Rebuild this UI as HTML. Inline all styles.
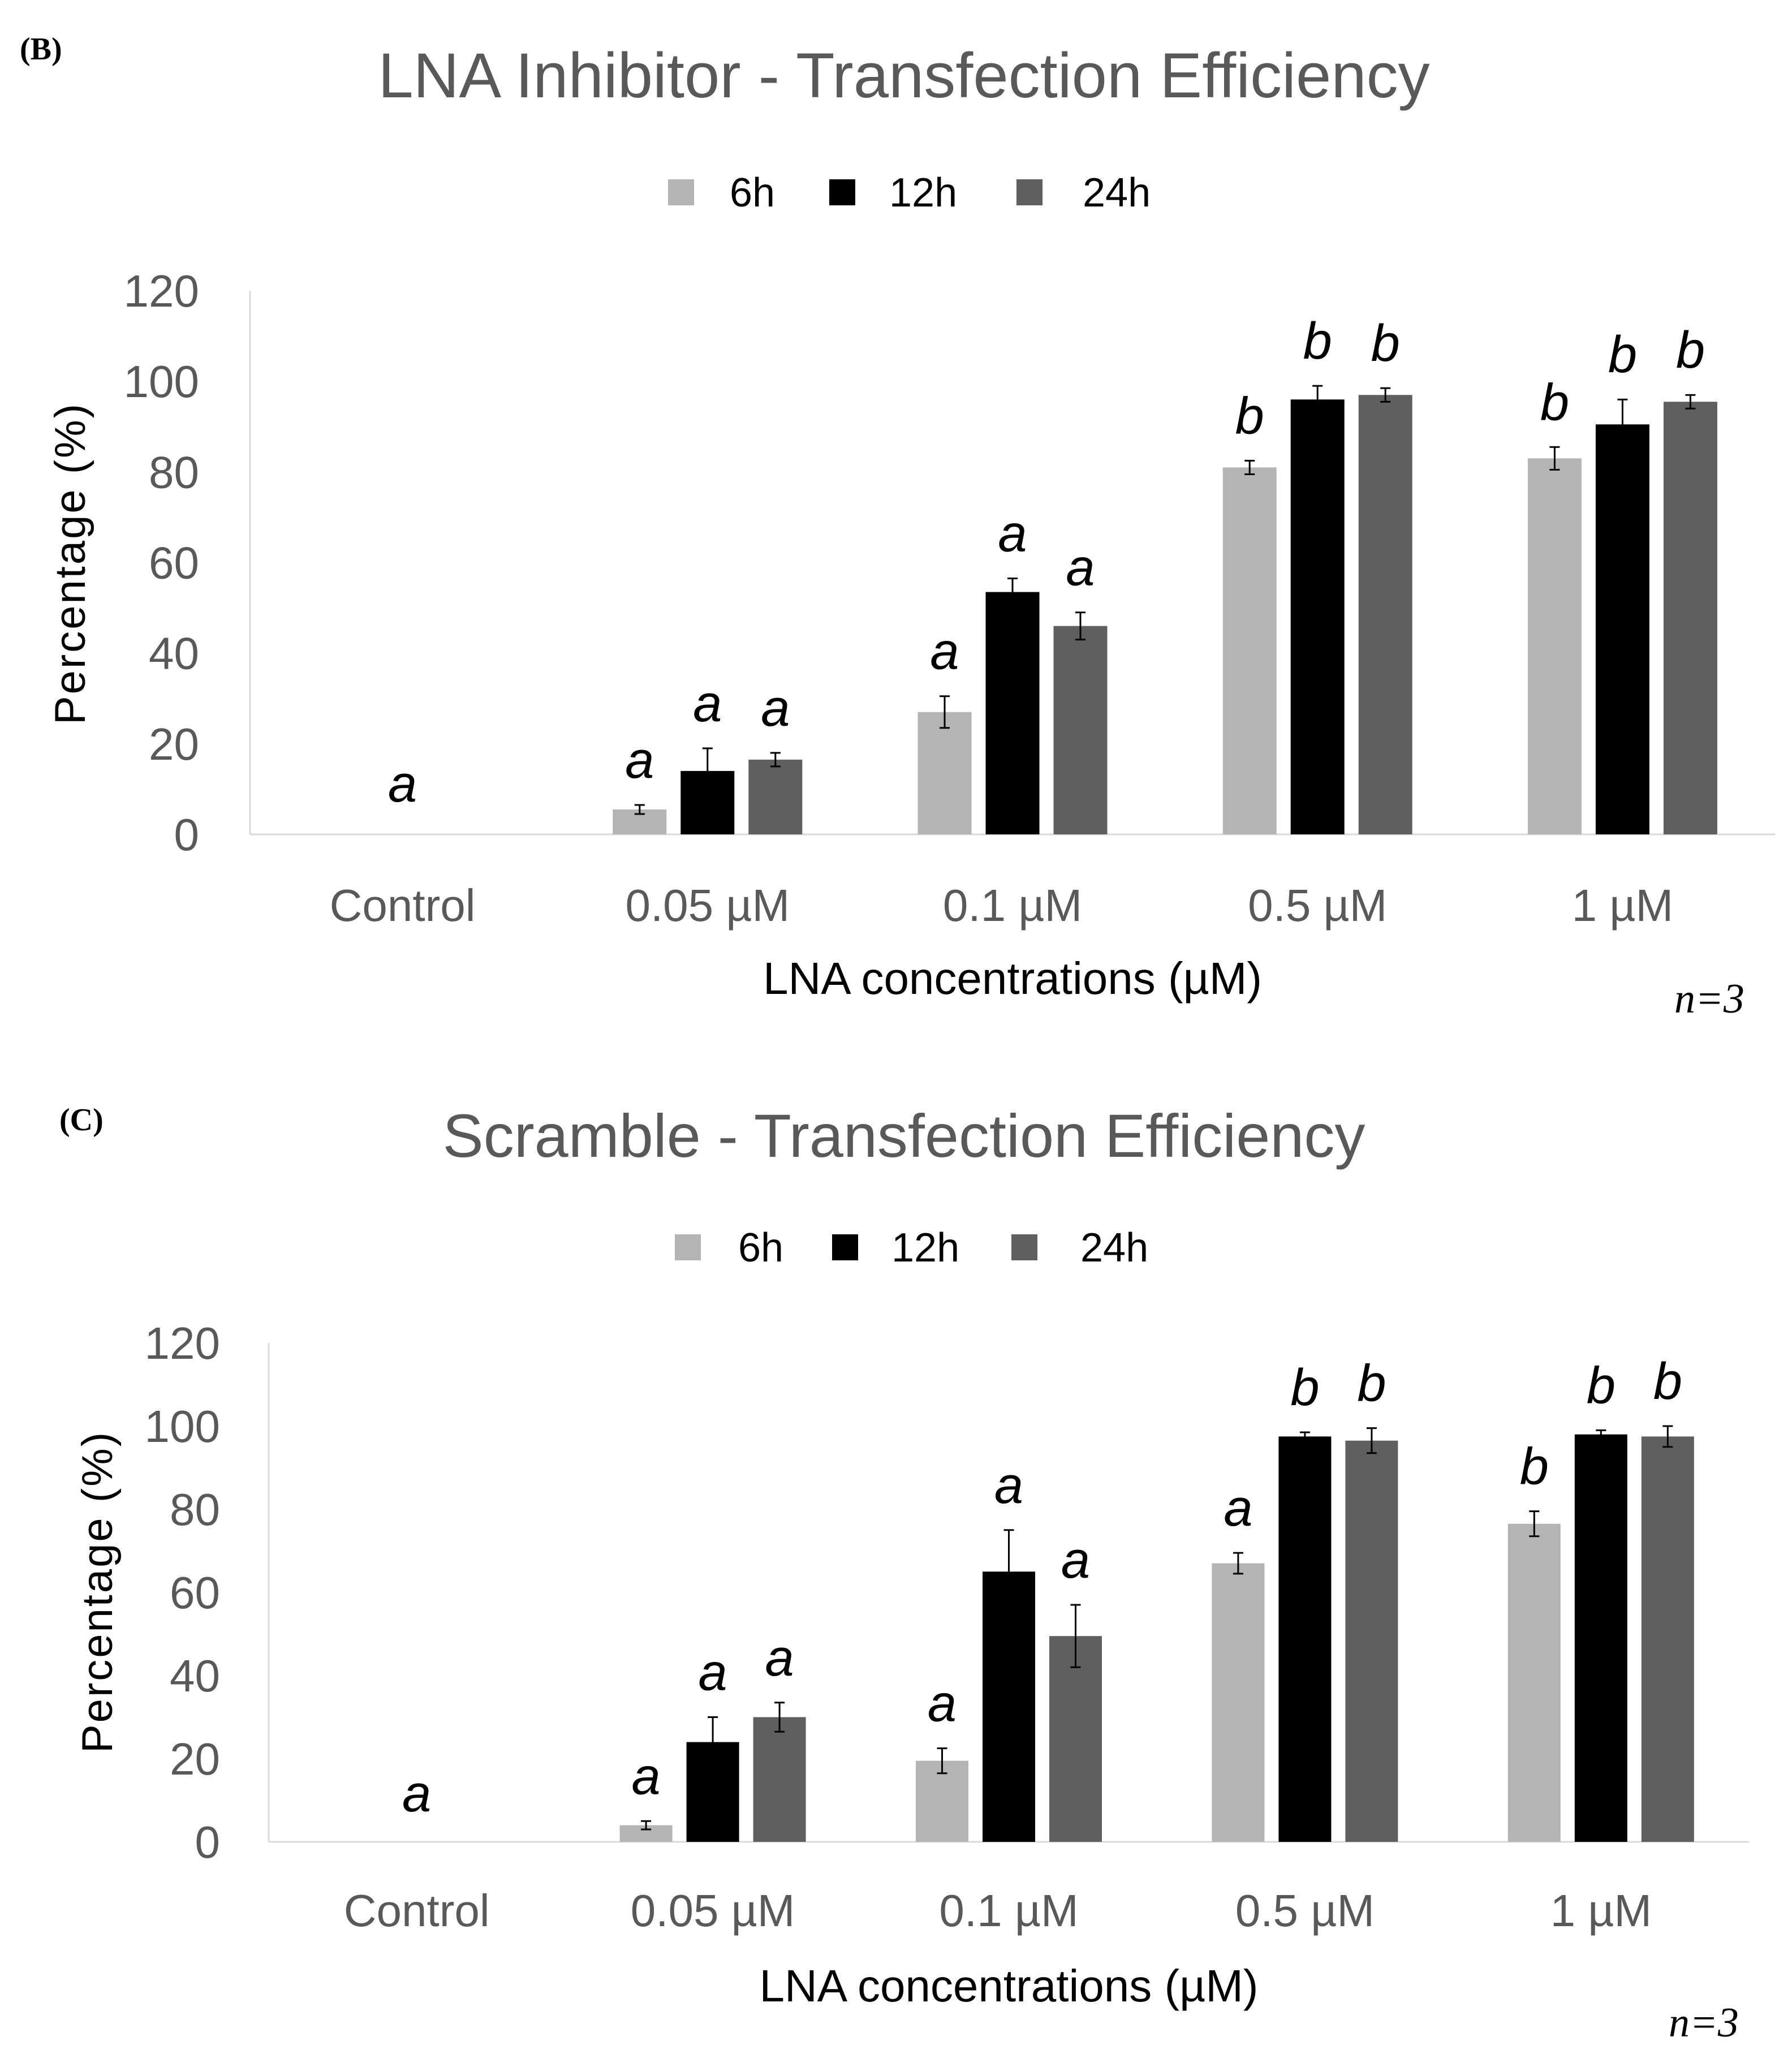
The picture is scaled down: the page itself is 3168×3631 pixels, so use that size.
<!DOCTYPE html>
<html><head><meta charset="utf-8"><style>
html,body{margin:0;padding:0;background:#fff;}
svg{display:block;}
</style></head><body>
<svg id="fig" width="3168" height="3631" viewBox="0 0 3168 3631" xmlns="http://www.w3.org/2000/svg" font-family="Liberation Sans, sans-serif">
<rect width="3168" height="3631" fill="#fff"/>
</svg>
<script>
const categories = ["Control","0.05 µM","0.1 µM","0.5 µM","1 µM"];
const seriesNames = ["6h","12h","24h"];
const yTicks = [0,20,40,60,80,100,120];
// Panel B
const b6 = [0,5.5,27,81,83];
const b12 = [0,14,53.5,96,90.5];
const b24 = [0,16.5,46,97,95.5];
const b6err = [0,1,3.5,1.5,2.5];
const b12err = [0,5,3,3,5.5];
const b24err = [0,1.5,3,1.5,1.5];
const bLetters6 = ["a","a","a","b","b"];
const bLetters12 = ["","a","a","b","b"];
const bLetters24 = ["","a","a","b","b"];
// Panel C
const c6 = [0,4,19.5,67,76.5];
const c12 = [0,24,65,97.5,98];
const c24 = [0,30,49.5,96.5,97.5];
const c6err = [0,1,3,2.5,3];
const c12err = [0,6,10,1,1];
const c24err = [0,3.5,7.5,3,2.5];
const cLetters6 = ["a","a","a","a","b"];
const cLetters12 = ["","a","a","b","b"];
const cLetters24 = ["","a","a","b","b"];

const colors = ["#b4b4b4","#000000","#5f5f5f"];
const NS = "http://www.w3.org/2000/svg";
const svg = document.getElementById('fig');
const SERIF = '"Liberation Serif", serif';
function mk(tag, attrs, parent, txt){
  const e = document.createElementNS(NS, tag);
  for (const k in attrs) e.setAttribute(k, attrs[k]);
  if (txt !== undefined) e.textContent = txt;
  (parent||svg).appendChild(e);
  return e;
}
function panel(cfg){
  const g = mk('g',{});
  
  
  const yScale = v => cfg.y0 - (v/120)*(cfg.y0 - cfg.y120);
  const groupW = (cfg.xRight - cfg.axisX)/5;
  const xCenter = i => cfg.axisX + groupW*(i+0.5);
  const pl = mk('text',{x:cfg.lblX,y:cfg.lblY,'font-size':56,'font-weight':'bold','font-family':SERIF,fill:'#000'},g,cfg.label);
  
  
  const t = mk('text',{x:1598,y:cfg.titleY,'font-size':cfg.titleSize,'text-anchor':'middle',fill:'#595959'},g,cfg.title);
  
  
  for (let s=0;s<3;s++){
    const r = mk('rect',{x:cfg.legSq[s],y:cfg.legY-23,width:46,height:46,fill:colors[s]},g);
    
    
    const lt = mk('text',{x:cfg.legTx[s],y:cfg.legY+25,'font-size':72,fill:'#000'},g,seriesNames[s]);
    
    
  }
  yTicks.forEach(v=>{
    const tt = mk('text',{x:cfg.tickR,y:yScale(v)+28,'font-size':80,'text-anchor':'end',fill:'#595959'},g,String(v));
    
    
  });
  const ya = mk('line',{x1:cfg.axisX,y1:cfg.y120,x2:cfg.axisX,y2:cfg.y0,stroke:'#d9d9d9','stroke-width':3},g);
  
  
  const xa = mk('line',{x1:cfg.axisX,y1:cfg.y0,x2:cfg.xRight,y2:cfg.y0,stroke:'#d9d9d9','stroke-width':3},g);
  
  
  const yt = mk('text',{x:0,y:0,'font-size':76,'text-anchor':'middle',fill:'#000','letter-spacing':3,transform:`translate(${cfg.yTitleX},${cfg.yTitleY}) rotate(-90)`},g,'Percentage (%)');
  
  
  const vals=[cfg.v6,cfg.v12,cfg.v24], errs=[cfg.e6,cfg.e12,cfg.e24], lets=[cfg.l6,cfg.l12,cfg.l24];
  categories.forEach((c,i)=>{
    const xl = mk('text',{x:xCenter(i),y:cfg.xLabY,'font-size':80,'text-anchor':'middle',fill:'#595959'},g,c);
    
    
    for (let s=0;s<3;s++){
      const cx = xCenter(i) + (s-1)*cfg.off;
      const v = vals[s][i], e = errs[s][i];
      if (v>0){
        const b = mk('rect',{x:cx-cfg.bw/2,y:yScale(v),width:cfg.bw,height:cfg.y0-yScale(v),fill:colors[s]},g);
        
        
        const eb = mk('path',{d:`M${cx-9},${yScale(v+e)}H${cx+9}M${cx},${yScale(v+e)}V${yScale(v-e)}M${cx-9},${yScale(v-e)}H${cx+9}`,stroke:'#000','stroke-width':3,fill:'none'},g);
        
        
      }
      const L = lets[s][i];
      if (L){
        const lx = (i===0) ? xCenter(i) : cx;
        const ly = yScale(v+e) - 48;
        const lt = mk('text',{x:lx,y:(i===0)? yScale(6)-10 : ly,'font-size':92,'font-style':'italic','text-anchor':'middle',fill:'#000'},g,L);
        
        
      }
    }
  });
  const xt = mk('text',{x:xCenter(2),y:cfg.xTitleY,'font-size':80,'text-anchor':'middle',fill:'#000'},g,'LNA concentrations (µM)');
  
  
  const n = mk('text',{x:cfg.nX,y:cfg.nY,'font-size':74,'font-style':'italic','font-family':SERIF,fill:'#000'},g,'n=3');
  
  
}
panel({name:'panel-b-chart',label:'(B)',lblX:35,lblY:105,title:'LNA Inhibitor - Transfection Efficiency',titleY:172,titleSize:112,
  legY:340,legSq:[1181,1466,1797],legTx:[1290,1572,1914],
  axisX:442,y0:1475,y120:514,xRight:3138,off:120,bw:95,tickR:352,yTitleX:150,yTitleY:996,
  xLabY:1628,xTitleY:1757,nX:2960,nY:1790,
  v6:b6,v12:b12,v24:b24,e6:b6err,e12:b12err,e24:b24err,l6:bLetters6,l12:bLetters12,l24:bLetters24});
panel({name:'panel-c-chart',label:'(C)',lblX:105,lblY:1998,title:'Scramble - Transfection Efficiency',titleY:2045,titleSize:108,
  legY:2205,legSq:[1193,1471,1788],legTx:[1305,1576,1910],
  axisX:475,y0:3256,y120:2374,xRight:3092,off:118,bw:93,tickR:389,yTitleX:198,yTitleY:2814,
  xLabY:3405,xTitleY:3538,nX:2950,nY:3600,
  v6:c6,v12:c12,v24:c24,e6:c6err,e12:c12err,e24:c24err,l6:cLetters6,l12:cLetters12,l24:cLetters24});
</script>
</body></html>
